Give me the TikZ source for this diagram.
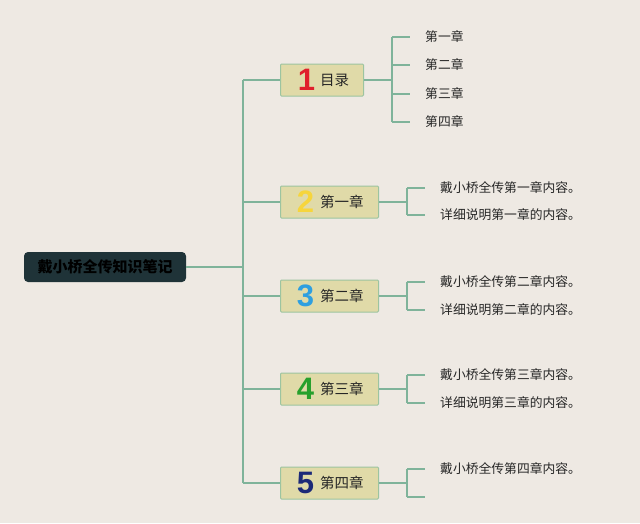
\documentclass[tikz,border=0pt]{standalone}
\usepackage{fontspec}
\setmainfont{Noto Sans}
\newfontfamily\cjk{Noto Sans CJK SC}
\newfontfamily\numfont{Liberation Sans}
\definecolor{bg}{HTML}{EEE9E3}
\definecolor{rootfill}{HTML}{1F3338}
\definecolor{boxfill}{HTML}{E0DAA8}
\definecolor{boxline}{HTML}{9CC4A0}
\definecolor{conn}{HTML}{7FB39A}
\definecolor{nred}{HTML}{E0202C}
\definecolor{nyellow}{HTML}{F6D53C}
\definecolor{nblue}{HTML}{2E9FE0}
\definecolor{ngreen}{HTML}{27A02C}
\definecolor{nnavy}{HTML}{1C2A78}
\begin{document}
\begin{tikzpicture}[x=1pt,y=-1pt,
  rootbox/.style={fill=rootfill,rounded corners=4pt,minimum width=162pt,minimum height=30pt,inner sep=0pt,font=\cjk\bfseries\fontsize{15}{16}\selectfont,text=black},
  branchbox/.style={fill=boxfill,draw=boxline,line width=1pt,rounded corners=1pt,minimum height=32pt,inner sep=0pt,anchor=west},
  numtxt/.style={font=\numfont\bfseries\fontsize{31}{31}\selectfont,inner sep=0pt},
  btxt/.style={font=\cjk\fontsize{14.5}{16}\selectfont,text=black!85,inner sep=0pt,anchor=west},
  leaf/.style={font=\cjk\fontsize{12.8}{14}\selectfont,text=black!85,inner sep=0pt,anchor=west},
  cn/.style={draw=conn,line width=1.1pt}]
\fill[bg] (0,0) rectangle (640,523);
\useasboundingbox (0,0) rectangle (640,523);

% root
\node[rootbox] (root) at (105,267) {戴小桥全传知识笔记};
\coordinate (trunk) at (243,267);
\coordinate (ttop) at (243,80);
\coordinate (tbot) at (243,483);

% branch boxes
\node[branchbox,minimum width=83pt] (b1) at (280,80) {};
\node[branchbox,minimum width=98pt] (b2) at (280,202) {};
\node[branchbox,minimum width=98pt] (b3) at (280,296) {};
\node[branchbox,minimum width=98pt] (b4) at (280,389) {};
\node[branchbox,minimum width=98pt] (b5) at (280,483) {};

\node[numtxt,text=nred] (n1) at (306.5,80) {1};
\node[numtxt,text=nyellow] (n2) at (305.5,202) {2};
\node[numtxt,text=nblue] (n3) at (305.5,296) {3};
\node[numtxt,text=ngreen] (n4) at (305.5,389) {4};
\node[numtxt,text=nnavy] (n5) at (305.5,483) {5};

\node[btxt] (t1) at (320,80) {目录};
\node[btxt] (t2) at (320,202) {第一章};
\node[btxt] (t3) at (320,296) {第二章};
\node[btxt] (t4) at (320,389) {第三章};
\node[btxt] (t5) at (320,483) {第四章};

% trunk
\draw[cn] (root.east) -- (trunk);
\draw[cn] (ttop) -- (tbot);
\foreach \i in {1,...,5} {\draw[cn] (243,0 |- b\i.west) -- (b\i.west);}

% branch 1 leaves
\coordinate (j1) at (392,80);
\draw[cn] (b1.east) -- (j1);
\draw[cn] (392,37) -- (392,122);
\foreach \y/\t in {37/第一章,65/第二章,94/第三章,122/第四章}{
  \draw[cn] (392,\y) -- (410,\y);
  \node[leaf] at (425,\y) {\t};
}

% branches 2-5
\foreach \b/\yc/\ya/\yb/\ta/\tb in {
  2/202/188/215/戴小桥全传第一章内容。/详细说明第一章的内容。,
  3/296/282/310/戴小桥全传第二章内容。/详细说明第二章的内容。,
  4/389/375/403/戴小桥全传第三章内容。/详细说明第三章的内容。,
  5/483/469/497/戴小桥全传第四章内容。/{}}{
  \draw[cn] (b\b.east) -- (407,\yc);
  \draw[cn] (407,\ya) -- (407,\yb);
  \draw[cn] (407,\ya) -- (425,\ya);
  \draw[cn] (407,\yb) -- (425,\yb);
  \node[leaf] at (440,\ya) {\ta};
  \node[leaf] at (440,\yb) {\tb};
}
\end{tikzpicture}
\end{document}
